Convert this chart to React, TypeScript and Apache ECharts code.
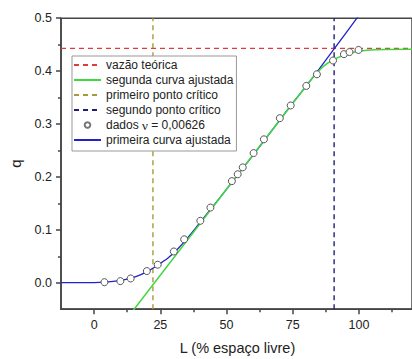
import React, { useEffect, useRef } from "react";
import * as echarts from "echarts";

// Experimental points: L (% free space) and q
const dadosL = [3.9, 9.9, 13.8, 19.9, 24.0, 30.1, 34.0, 40.1, 43.9, 52.0, 54.2, 56.1, 60.2, 64.1, 70.1, 74.2, 80.1, 84.1, 90.2, 94.3, 96.4, 99.8];
const dadosQ = [0.001, 0.003, 0.008, 0.022, 0.034, 0.059, 0.082, 0.117, 0.142, 0.192, 0.205, 0.218, 0.245, 0.271, 0.311, 0.335, 0.372, 0.394, 0.420, 0.432, 0.436, 0.440];

// First fitted curve (blue)
const primeiraL = [-12.5, -5, 0, 4, 8, 12, 16, 20, 24, 28, 32, 36, 40, 45, 50, 55, 60, 65, 70, 75, 80, 85, 90.6, 99.2, 101];
const primeiraQ = [0, 0, 0.0003, 0.0012, 0.003, 0.0065, 0.012, 0.021, 0.033, 0.047, 0.066, 0.089, 0.114, 0.145, 0.177, 0.209, 0.241, 0.274, 0.307, 0.340, 0.371, 0.404, 0.442, 0.5, 0.512];

// Second fitted curve (green)
const segundaL = [14.5, 82, 84, 86, 88, 90, 92, 94, 96, 98, 100, 103, 106, 110, 120];
const segundaQ = [-0.054, 0.3847, 0.3965, 0.4065, 0.4145, 0.4205, 0.4255, 0.4295, 0.433, 0.4355, 0.4375, 0.4395, 0.4405, 0.441, 0.4415];

// Reference lines
const vazaoTeorica = 0.443;
const primeiroPontoCritico = 22.2;
const segundoPontoCritico = 90.6;

// Axes
const xMin = -12.5;
const xMax = 120;
const yMin = -0.05;
const yMax = 0.5;
const xMajor = [0, 25, 50, 75, 100];
const xMinor = [12.5, 37.5, 62.5, 87.5, 112.5];
const yMajor = [0, 0.1, 0.2, 0.3, 0.4, 0.5];
const yMinor = [0.05, 0.15, 0.25, 0.35, 0.45];

const FONT = "'Liberation Sans', Arial, sans-serif";
const AXIS_COLOR = "#444";
const TEXT_COLOR = "#222";

const NOMES = {
  vazao: "vazão teórica",
  segunda: "segunda curva ajustada",
  primeiro: "primeiro ponto crítico",
  segundo: "segundo ponto crítico",
  dados: "dados ν = 0,00626",
  primeira: "primeira curva ajustada",
};

const zip = (a: number[], b: number[]) => a.map((v, i) => [v, b[i]]);

export default function App() {
  const ref = useRef<HTMLDivElement>(null);

  useEffect(() => {
    if (!ref.current) return;
    const chart = echarts.init(ref.current, undefined, { renderer: "svg" });

    const axisLineStyle = { color: AXIS_COLOR, width: 1.5 };
    // legend entries of the line-only series show just their stroke
    const lineOnly = (name: string) => ({ name, itemStyle: { opacity: 0 } });

    chart.setOption({
      animation: false,
      backgroundColor: "#fff",
      grid: {
        left: 56.2,
        top: 18.2,
        right: -27.1,
        bottom: 49.85,
        show: true,
        borderColor: AXIS_COLOR,
        borderWidth: 1.5,
        backgroundColor: "transparent",
      },
      legend: {
        orient: "vertical",
        left: 72,
        top: 56,
        padding: [1.5, 3, 3.5, 1],
        itemWidth: 27,
        itemHeight: 7,
        itemGap: 0,
        backgroundColor: "#fff",
        borderColor: "#999",
        borderWidth: 1,
        formatter: (name: string) =>
          name === NOMES.dados ? "{a|dados }{b|ν}{a| = 0,00626}" : name,
        textStyle: {
          fontFamily: FONT,
          fontSize: 12,
          color: TEXT_COLOR,
          lineHeight: 15,
          rich: {
            a: { fontFamily: FONT, fontSize: 12, color: TEXT_COLOR, lineHeight: 15 },
            b: { fontFamily: "'Liberation Serif', 'DejaVu Serif', serif", fontSize: 13, color: TEXT_COLOR, lineHeight: 15 },
          },
        },
        data: [
          lineOnly(NOMES.vazao),
          lineOnly(NOMES.segunda),
          lineOnly(NOMES.primeiro),
          lineOnly(NOMES.segundo),
          { name: NOMES.dados, itemStyle: { borderColor: "#777" } },
          lineOnly(NOMES.primeira),
        ],
      },
      xAxis: [
        {
          type: "value",
          min: xMin,
          max: xMax,
          position: "bottom",
          axisLine: { show: true, onZero: false, lineStyle: axisLineStyle },
          axisTick: { show: true, inside: false, length: 5, customValues: xMajor, lineStyle: axisLineStyle },
          axisLabel: { customValues: xMajor, margin: 9, fontSize: 12.5, fontFamily: FONT, color: TEXT_COLOR },
          splitLine: { show: false },
        },
        {
          type: "value",
          min: xMin,
          max: xMax,
          position: "bottom",
          axisLine: { show: false, onZero: false },
          axisTick: { show: true, inside: false, length: 3, customValues: xMinor, lineStyle: axisLineStyle },
          axisLabel: { show: false },
          splitLine: { show: false },
        },
      ],
      yAxis: [
        {
          type: "value",
          min: yMin,
          max: yMax,
          position: "left",
          name: "q",
          nameLocation: "middle",
          nameGap: 38,
          nameTextStyle: { fontFamily: FONT, fontSize: 15, color: TEXT_COLOR },
          axisLine: { show: true, onZero: false, lineStyle: axisLineStyle },
          axisTick: { show: true, inside: false, length: 5, customValues: yMajor, lineStyle: axisLineStyle },
          axisLabel: {
            customValues: yMajor,
            margin: 9,
            fontSize: 12.5,
            fontFamily: FONT,
            color: TEXT_COLOR,
            formatter: (v: number) => v.toFixed(1),
          },
          splitLine: { show: false },
        },
        {
          type: "value",
          min: yMin,
          max: yMax,
          position: "left",
          axisLine: { show: false, onZero: false },
          axisTick: { show: true, inside: false, length: 3, customValues: yMinor, lineStyle: axisLineStyle },
          axisLabel: { show: false },
          splitLine: { show: false },
        },
      ],
      graphic: [
        {
          type: "text",
          x: 237.5,
          y: 348,
          style: {
            text: "L (% espaço livre)",
            fontFamily: FONT,
            fontSize: 14.5,
            fill: TEXT_COLOR,
            textAlign: "center",
            textVerticalAlign: "middle",
          },
        },
      ],
      series: [
        {
          name: NOMES.vazao,
          type: "line",
          data: [[xMin, vazaoTeorica], [xMax, vazaoTeorica]],
          symbol: "none",
          lineStyle: { color: "#e03a3a", width: 1.4, type: [5, 4] },
          itemStyle: { color: "#e03a3a" },
          z: 2,
        },
        {
          name: NOMES.primeiro,
          type: "line",
          data: [[primeiroPontoCritico, yMin], [primeiroPontoCritico, yMax]],
          symbol: "none",
          lineStyle: { color: "#a89a3a", width: 1.4, type: [5, 4] },
          itemStyle: { color: "#a89a3a" },
          z: 2,
        },
        {
          name: NOMES.segundo,
          type: "line",
          data: [[segundoPontoCritico, yMin], [segundoPontoCritico, yMax]],
          symbol: "none",
          lineStyle: { color: "#1f1f78", width: 1.4, type: [5, 4] },
          itemStyle: { color: "#1f1f78" },
          z: 2,
        },
        {
          name: NOMES.primeira,
          type: "line",
          data: zip(primeiraL, primeiraQ),
          symbol: "none",
          smooth: 0.3,
          lineStyle: { color: "#2222cc", width: 1.3 },
          itemStyle: { color: "#2222cc" },
          z: 3,
        },
        {
          name: NOMES.segunda,
          type: "line",
          data: zip(segundaL, segundaQ),
          symbol: "none",
          lineStyle: { color: "#3ed83e", width: 1.5 },
          itemStyle: { color: "#3ed83e" },
          z: 4,
        },
        {
          name: NOMES.dados,
          type: "line",
          data: zip(dadosL, dadosQ),
          symbol: "circle",
          symbolSize: 7,
          showSymbol: true,
          lineStyle: { width: 0, opacity: 0 },
          itemStyle: { color: "#fff", borderColor: "#555", borderWidth: 1 },
          z: 5,
        },
      ],
    });

    return () => chart.dispose();
  }, []);

  return (
    <div
      ref={ref}
      style={{ position: "fixed", left: 0, top: 0, width: 412, height: 359, background: "#fff" }}
    />
  );
}
